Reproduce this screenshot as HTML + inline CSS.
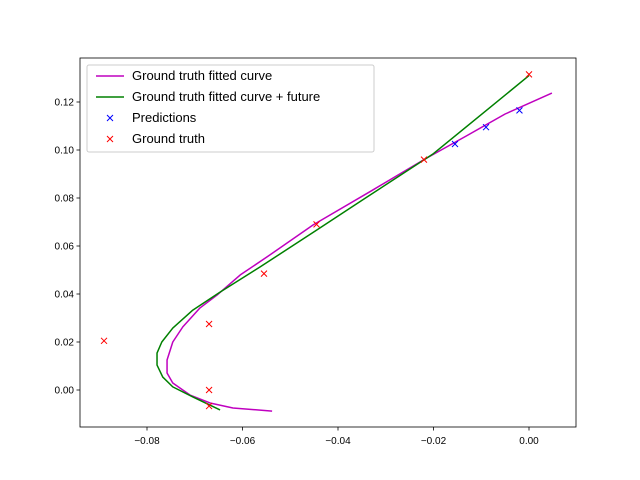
<!DOCTYPE html>
<html><head><meta charset="utf-8"><style>body{margin:0;background:#fff}svg{display:block;font-family:"Liberation Sans","DejaVu Sans",sans-serif}</style></head>
<body>
<svg id="c" width="640" height="480" viewBox="0 0 640 480"></svg>
<script>
const xTicks=[-0.08,-0.06,-0.04,-0.02,0.00];
const yTicks=[0.00,0.02,0.04,0.06,0.08,0.10,0.12];
const xTickLabels=["−0.08","−0.06","−0.04","−0.02","0.00"];
const yTickLabels=["0.00","0.02","0.04","0.06","0.08","0.10","0.12"];
const fitX=[0.0048,-0.005,-0.013,-0.022,-0.033,-0.0452,-0.0549,-0.0605,-0.0653,-0.0689,-0.0725,-0.0746,-0.0758,-0.0758,-0.0746,-0.0710,-0.0668,-0.0620,-0.0538];
const fitY=[0.1237,0.115,0.106,0.096,0.083,0.0688,0.0554,0.0479,0.0396,0.0342,0.0263,0.0200,0.0125,0.0071,0.0029,-0.0021,-0.0054,-0.0075,-0.0088];
const futX=[0.000,-0.008,-0.020,-0.035,-0.0444,-0.0563,-0.0647,-0.0704,-0.0746,-0.0769,-0.0779,-0.0779,-0.0767,-0.0746,-0.0704,-0.0647];
const futY=[0.131,0.118,0.0985,0.079,0.0667,0.0513,0.0408,0.0333,0.0258,0.0200,0.0154,0.0104,0.0054,0.0013,-0.0029,-0.0083];
const predX=[-0.0155,-0.009,-0.002];
const predY=[0.1025,0.1095,0.1165];
const gtX=[-0.089,-0.067,-0.067,-0.067,-0.0555,-0.0445,-0.022,0.000];
const gtY=[0.0205,0.0275,0.000,-0.0067,0.0485,0.069,0.096,0.1315];
const L=80,R=576,T=58,B=427;
const X=v=>529+v*4775, Y=v=>390-v*2400;
const svg=document.getElementById('c');const NS='http://www.w3.org/2000/svg';
function el(t,a,p){const e=document.createElementNS(NS,t);for(const k in a)e.setAttribute(k,a[k]);(p||svg).appendChild(e);return e;}
xTicks.forEach((v,i)=>{const g=el('g',{});


el('line',{x1:X(v),x2:X(v),y1:B,y2:B+3.5,stroke:'#000','stroke-width':0.8},g);
const t=el('text',{x:X(v),y:B+17,'font-size':10,'text-anchor':'middle'},g);t.textContent=xTickLabels[i];});
yTicks.forEach((v,i)=>{const g=el('g',{});


el('line',{x1:L-3.5,x2:L,y1:Y(v),y2:Y(v),stroke:'#000','stroke-width':0.8},g);
const t=el('text',{x:L-6,y:Y(v)+3.5,'font-size':10,'text-anchor':'end'},g);t.textContent=yTickLabels[i];});
function line(xs,ys,c,n){const p=el('polyline',{points:xs.map((x,i)=>X(x)+','+Y(ys[i])).join(' '),fill:'none',stroke:c,'stroke-width':1.5,'stroke-linejoin':'round'});

}
line(fitX,fitY,'#bf00bf','fitted-curve');
line(futX,futY,'#008000','fitted-curve-future');
function marks(xs,ys,c,n){xs.forEach((x,i)=>{const cx=X(x),cy=Y(ys[i]);const p=el('path',{d:`M${cx-3},${cy-3}L${cx+3},${cy+3}M${cx-3},${cy+3}L${cx+3},${cy-3}`,stroke:c,'stroke-width':1});

});}
marks(predX,predY,'#0000ff','prediction-marker');
marks(gtX,gtY,'#ff0000','ground-truth-marker');
const fr=el('rect',{x:L,y:T,width:R-L,height:B-T,fill:'none',stroke:'#000','stroke-width':0.8});


const lg=el('g',{});


el('rect',{x:87,y:65,width:287,height:87,rx:2,fill:'#fff','fill-opacity':0.8,stroke:'#ccc','stroke-width':1},lg);
const items=[["Ground truth fitted curve",'#bf00bf','l'],["Ground truth fitted curve + future",'#008000','l'],["Predictions",'#0000ff','x'],["Ground truth",'#ff0000','x']];
items.forEach((it,i)=>{const y=76+i*21;
const g=el('g',{},lg);


if(it[2]=='l')el('line',{x1:96,x2:124,y1:y,y2:y,stroke:it[1],'stroke-width':1.5},g);
else el('path',{d:`M107,${y-3}L113,${y+3}M107,${y+3}L113,${y-3}`,stroke:it[1],'stroke-width':1},g);
const t=el('text',{x:132,y:y+4,'font-size':13},g);t.textContent=it[0];});
</script>
</body></html>
